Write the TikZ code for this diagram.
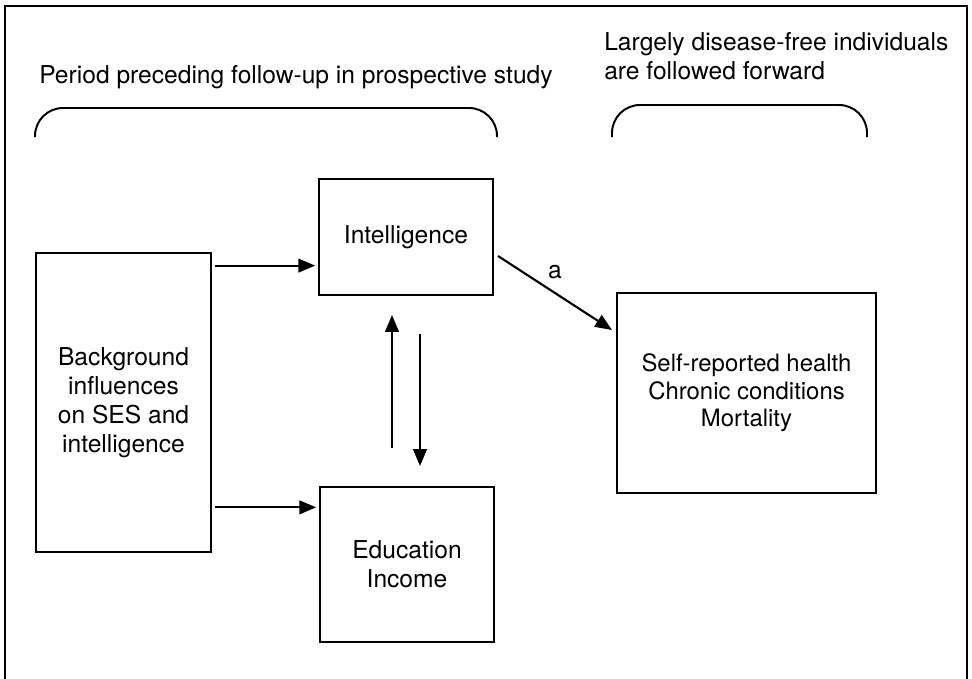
\documentclass[tikz,border=0pt]{standalone}
\usepackage{fontspec}
\setmainfont{TeX Gyre Heros}
\usetikzlibrary{arrows.meta}

\begin{document}
\begin{tikzpicture}[x=0.025cm, y=-0.025cm,
  every node/.style={font=\fontsize{17.5}{20.5}\selectfont},
  box/.style={draw, line width=1.4pt, align=center, inner sep=0pt},
  arr/.style={-{Triangle[length=0.42cm,width=0.34cm]}, line width=1.5pt},
  brace/.style={line width=1.4pt, rounded corners=0.7cm}]
\useasboundingbox (0,0) rectangle (972,678);

% outer frame
\draw [line width=1.2pt] (5,690) -- (5,6) -- (967,6) -- (967,690);

% headings
\node [anchor=base west, inner sep=0pt] (period) at (39,83) {Period preceding follow-up in prospective study};
\node [anchor=north west, inner sep=0pt, align=left] (follow) at (604,32) {Largely disease-free individuals\\are followed forward};

\draw [brace] (35,137) -- (35,108) -- (497,108) -- (497,137);
\draw [brace] (612,137) -- (612,105) -- (867,105) -- (867,137);

% boxes
\node [box, minimum width=4.35cm, minimum height=2.9cm] (intel) at (406,237) {Intelligence};
\node [box, minimum width=4.375cm, minimum height=7.475cm] (backg) at (123.5,402.5) {Background\\influences\\on SES and\\intelligence};
\node [box, minimum width=4.35cm, minimum height=3.875cm] (edu) at (407,564.5) {Education\\Income};
\node [box, minimum width=6.475cm, minimum height=5cm, font=\fontsize{17}{19.5}\selectfont] (outc) at (746.5,393) {Self-reported health\\Chronic conditions\\Mortality};

% arrows
\draw [arr, shorten <=2pt, shorten >=2pt] (intel.198 -| backg.east) -- (intel.198);
\draw [arr, shorten <=2pt, shorten >=2pt] (edu.147 -| backg.east) -- (edu.147);

\draw [arr] ([shift={(-15,-38)}]edu.north) -- ([shift={(-14,19)}]intel.south);
\draw [arr] ([shift={(14,38)}]intel.south) -- ([shift={(13,-20)}]edu.north);

\draw [arr] ([shift={(4,19)}]intel.east) -- node [above=6pt] (a) {a} ([shift={(-4,38)}]outc.north west);

\end{tikzpicture}
\end{document}
